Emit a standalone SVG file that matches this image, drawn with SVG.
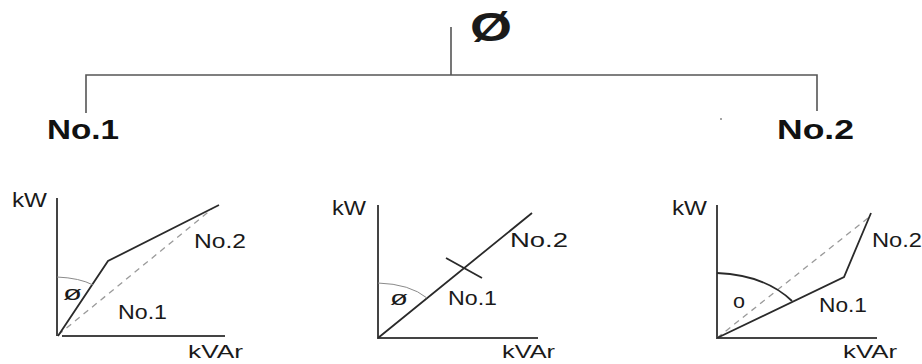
<svg xmlns="http://www.w3.org/2000/svg" width="922" height="364" viewBox="0 0 922 364">
<style>
.t{font-family:"Liberation Sans",Arial,sans-serif;fill:#1a1a1a}
.big{font-size:28px;font-weight:bold;fill:#111}
.sm{font-size:20px}
.kv{font-size:19px}
.tree{stroke:#555;stroke-width:1.6;fill:none}
.ax{stroke:#444;stroke-width:2;fill:none}
.ln{stroke:#2a2a2a;stroke-width:1.8;fill:none}
.dash{stroke:#9a9a9a;stroke-width:1.3;stroke-dasharray:6 5;fill:none}
.arc{stroke:#8a8a8a;stroke-width:1;fill:none}
</style>
<rect width="922" height="364" fill="#fff"/>
<g id="connectors">
<path class="tree" d="M451,27 V75 M86,113 V75 H817 V111"/>
</g>
<g id="root"><text class="t" x="470" y="41" font-size="40" font-weight="bold" textLength="42" lengthAdjust="spacingAndGlyphs">Ø</text></g>
<g id="no1"><text class="t big" x="47" y="139" textLength="72" lengthAdjust="spacingAndGlyphs">No.1</text></g>
<g id="no2"><text class="t big" x="777" y="139" textLength="77" lengthAdjust="spacingAndGlyphs">No.2</text></g>
<circle cx="721" cy="119" r="0.8" fill="#333"/>
<g id="chart1">
<path class="ax" d="M57,198 V336 M62,336 H225"/>
<path class="dash" d="M58,335 L212,209"/>
<path class="ln" d="M58,336 L108,261 L219,205"/>
<path class="arc" d="M57,277 Q80,278 93,285"/>
<text class="t sm" x="12" y="207" textLength="35" lengthAdjust="spacingAndGlyphs">kW</text>
<text class="t sm" x="63" y="300" textLength="19" lengthAdjust="spacingAndGlyphs">ø</text>
<text class="t sm" x="194" y="248" textLength="52" lengthAdjust="spacingAndGlyphs">No.2</text>
<text class="t sm" x="118" y="319" textLength="49" lengthAdjust="spacingAndGlyphs">No.1</text>
<text class="t kv" x="188" y="358" textLength="55" lengthAdjust="spacingAndGlyphs">kVAr</text>
</g>
<g id="chart2">
<path class="ax" d="M378,205 V338 H538"/>
<path class="ln" d="M378,338 L532,213 M446,258 L482,278"/>
<path class="arc" d="M378,283 Q410,284 427,298"/>
<text class="t sm" x="332" y="215" textLength="34" lengthAdjust="spacingAndGlyphs">kW</text>
<text class="t sm" x="390" y="305" textLength="18" lengthAdjust="spacingAndGlyphs">ø</text>
<text class="t sm" x="510" y="247" textLength="58" lengthAdjust="spacingAndGlyphs">No.2</text>
<text class="t sm" x="448" y="305" textLength="49" lengthAdjust="spacingAndGlyphs">No.1</text>
<text class="t kv" x="502" y="358" textLength="53" lengthAdjust="spacingAndGlyphs">kVAr</text>
</g>
<g id="chart3">
<path class="ax" d="M717,205 V338 H877"/>
<path class="dash" d="M717,338 L868,218"/>
<path class="ln" d="M717,338 L844,277 L871,213"/>
<path class="ln" d="M717,273 Q765,275 792,301"/>
<text class="t sm" x="672" y="215" textLength="35" lengthAdjust="spacingAndGlyphs">kW</text>
<text class="t sm" x="733" y="308" textLength="12" lengthAdjust="spacingAndGlyphs">o</text>
<text class="t sm" x="872" y="247" textLength="50" lengthAdjust="spacingAndGlyphs">No.2</text>
<text class="t sm" x="819" y="312" textLength="48" lengthAdjust="spacingAndGlyphs">No.1</text>
<text class="t kv" x="843" y="358" textLength="54" lengthAdjust="spacingAndGlyphs">kVAr</text>
</g>
</svg>
